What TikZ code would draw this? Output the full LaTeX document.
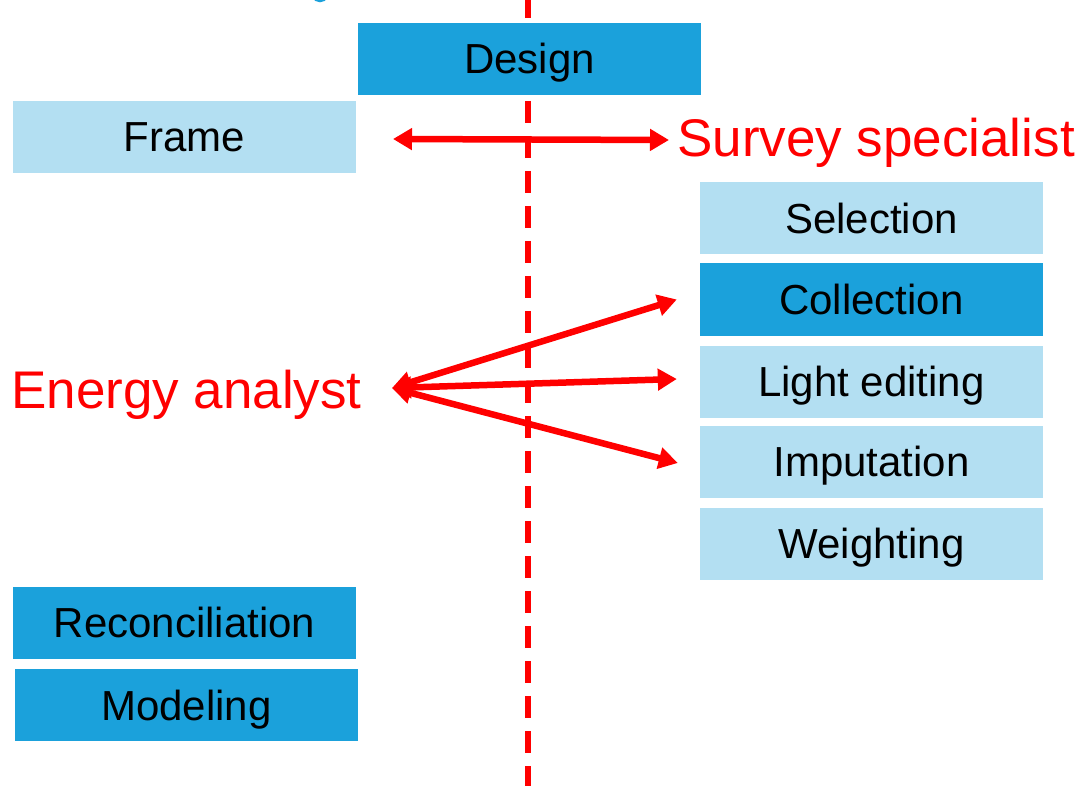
\documentclass[tikz,border=0pt]{standalone}
\usepackage{fontspec}
\setmainfont{Liberation Sans}
\usetikzlibrary{arrows.meta}
\definecolor{darkbox}{HTML}{1BA1DB}
\definecolor{lightbox}{HTML}{B3DFF2}
\definecolor{redline}{HTML}{FF0000}
\tikzset{
  box/.style={rectangle, minimum width=343pt, minimum height=72pt, inner sep=0pt, text height=30pt, text depth=0pt, text=black, font=\fontsize{42}{50}\selectfont},
  darkb/.style={box, fill=darkbox},
  lightb/.style={box, fill=lightbox},
  role/.style={text=redline, font=\fontsize{53}{60}\selectfont, inner sep=0pt, anchor=base west},
  arr/.style={redline, line width=6.5pt, {Triangle[length=19pt,width=21pt]}-{Triangle[length=19pt,width=21pt]}},
  divider/.style={redline, line width=5.5pt, dash pattern=on 22pt off 13pt}
}
\begin{document}
\begin{tikzpicture}[x=1pt,y=-1pt]
\useasboundingbox (0,0) rectangle (1084,786);
\fill[white] (0,0) rectangle (1084,786);
% fragment of a blue letter at top edge
\draw[darkbox, line width=3.5pt] (320,-14) ellipse [x radius=10, y radius=14.5];
% divider
\coordinate (dtop) at (528,-4);
\coordinate (dbot) at (528,790);
\draw[divider] (dtop) -- (dbot);
% boxes
\node[darkb]  (design)   at (529.5,59)  {Design};
\node[lightb] (frame)    at (184.5,137) {Frame};
\node[lightb] (selection) at (871.5,218.5) {Selection};
\node[darkb]  (collection) at (871.5,299.5) {Collection};
\node[lightb] (lightedit) at (871.5,381.5) {Light editing};
\node[lightb] (imputation) at (871.5,461.5) {Imputation};
\node[lightb] (weighting) at (871.5,543.5) {Weighting};
\node[darkb]  (reconc)   at (184.5,622.5) {Reconciliation};
\node[darkb]  (modeling) at (186.5,705)  {Modeling};
% roles
\node[role] (survey) at (677,157) {Survey specialist};
\node[role] (energy) at (11,408) {Energy analyst};
% arrows
\coordinate (fl) at (393,139);
\coordinate (fr) at (669,140);
\coordinate (ea) at (392,388);
\draw[arr] (fl) -- (fr);
\draw[arr] (ea) -- ([xshift=-23pt]collection.west);
\draw[arr] (ea) -- ([xshift=-23pt,yshift=2.5pt]lightedit.west);
\draw[arr] (ea) -- ([xshift=-22pt,yshift=-1.5pt]imputation.west);
\end{tikzpicture}
\end{document}
